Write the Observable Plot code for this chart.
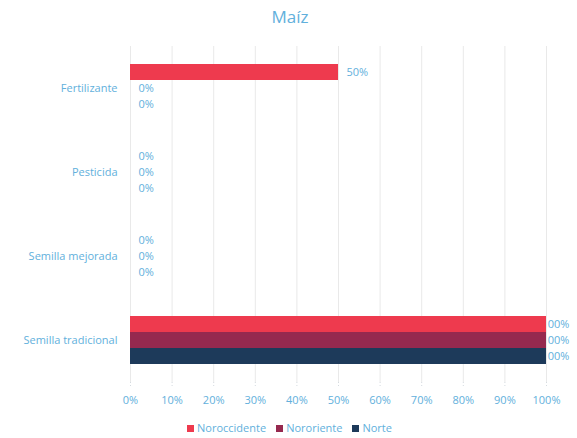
<!DOCTYPE html>
<html>
<head>
<meta charset="utf-8">
<script src="https://cdn.jsdelivr.net/npm/d3@7"></script>
<script src="https://cdn.jsdelivr.net/npm/@observablehq/plot@0.6"></script>
<style>
  body { margin: 0; background: #fff; font-family: "Open Sans", sans-serif; }
  #title { height: 36px; line-height: 34px; text-align: center; font-size: 17px; color: #62b0dc; padding-left: 3px; }
  #legend { height: 22px; display: flex; justify-content: center; align-items: center; font-size: 11px; color: #62b0dc; gap: 10px; padding-left: 2px; }
  #legend span.sw { display: inline-block; width: 7px; height: 7px; margin-right: 3px; }
</style>
</head>
<body>
<div id="title">Maíz</div>
<div id="chart"></div>
<div id="legend"></div>
<script>
const categories = ["Fertilizante", "Pesticida", "Semilla mejorada", "Semilla tradicional"];
const regions = ["Noroccidente", "Nororiente", "Norte"];
const colors = ["#ee3a4e", "#96294f", "#1d3a5a"];
const noroccidente = [50, 0, 0, 100];
const nororiente = [0, 0, 0, 100];
const norte = [0, 0, 0, 100];
const xTicks = [0, 10, 20, 30, 40, 50, 60, 70, 80, 90, 100];

const series = [noroccidente, nororiente, norte];
const data = [];
categories.forEach((c, i) => regions.forEach((r, j) => data.push({category: c, region: r, value: series[j][i]})));

const txt = "#62b0dc";
const plot = Plot.plot({
  width: 577,
  height: 380,
  marginTop: 9,
  marginBottom: 33,
  marginLeft: 130,
  marginRight: 31,
  style: {fontFamily: "Open Sans, sans-serif", fontSize: "11px", color: txt, background: "#fff"},
  x: {domain: [0, 100], ticks: xTicks, tickFormat: d => d + "%", label: null, tickSize: 6, tickPadding: 8},
  fy: {domain: categories, padding: 0, axis: "left", label: null, tickSize: 0, tickPadding: 13},
  y: {domain: regions, paddingInner: 0, paddingOuter: 0.99, axis: null},
  color: {domain: regions, range: colors},
  marks: [
    Plot.ruleX(xTicks, {x: d => d, stroke: "#e9e9e9", strokeWidth: 1}),
    Plot.text(data.filter(d => d.value >= 100), {x: "value", y: "region", fy: "category", text: d => d.value + "%", textAnchor: "start", dx: -5, fill: txt}),
    Plot.barX(data, {x: "value", y: "region", fy: "category", fill: "region"}),
    Plot.text(data.filter(d => d.value < 100), {x: "value", y: "region", fy: "category", text: d => d.value + "%", textAnchor: "start", dx: 8, fill: txt})
  ]
});
document.getElementById("chart").appendChild(plot);
// style the x-axis tick marks as faint dotted stubs
plot.querySelectorAll('g[aria-label="x-axis tick"] path, g[aria-label="x-axis"] line').forEach(p => {
  p.setAttribute("stroke-dasharray", "1,2");
  p.setAttribute("stroke", "#d5dbe0");
});
const tg = plot.querySelector('g[aria-label="x-axis tick"]');
if (tg) { tg.setAttribute("stroke", "#d5dbe0"); tg.setAttribute("stroke-dasharray", "1,2"); }

const lg = document.getElementById("legend");
regions.forEach((r, i) => {
  const s = document.createElement("span");
  s.innerHTML = `<span class="sw" style="background:${colors[i]}"></span>${r}`;
  lg.appendChild(s);
});
</script>
</body>
</html>
